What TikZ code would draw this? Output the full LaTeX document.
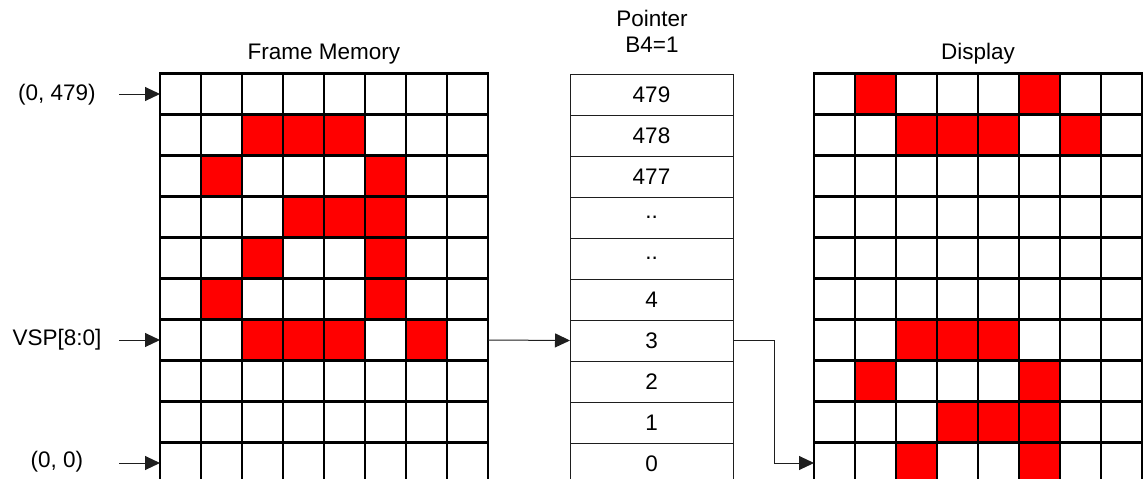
\documentclass[tikz,border=0pt]{standalone}
\usepackage{fontspec}
\setmainfont{Liberation Sans}
\usetikzlibrary{arrows.meta, positioning, backgrounds}
\definecolor{vermelho}{RGB}{255, 0, 0}
\definecolor{cinza}{RGB}{30, 30, 30}
\tikzset{
  celula/.style={
    draw, line width=2.3pt, minimum width=41pt, minimum height=41pt,
    inner sep=0pt, outer sep=0pt
  },
  registro/.style={
    draw=cinza, line width=1pt, minimum width=163pt, minimum height=41pt,
    inner sep=0pt, outer sep=0pt, font=\fontsize{22.5}{26}\selectfont
  },
  rotulo/.style={font=\fontsize{22.5}{26}\selectfont, align=center, inner sep=0pt},
  seta/.style={-{Triangle[length=15pt, width=14pt]}, line width=1pt, cinza},
}

\begin{document}
\begin{tikzpicture}[x=1pt, y=-1pt]
\useasboundingbox (0,0) rectangle (1143,479);
\clip (0,0) rectangle (1143,479);

% grades: memoria de quadro e display
\foreach \r in {0,...,9}
  \foreach \c in {0,...,7} {
    \node[celula] (fm-\r-\c) at (180.5+41*\c, 94+41*\r) {};
    \node[celula] (dp-\r-\c) at (834.5+41*\c, 94+41*\r) {};
  }

% tabela de ponteiros
\foreach \t [count=\i from 0] in {479,478,477,{..},{..},4,3,2,1,0}
  \node[registro] (ptr-\i) at (651.5, 94.5+41*\i) {\t};

\begin{scope}[on background layer]
\foreach \r/\c in {1/2,1/3,1/4,2/1,2/5,3/3,3/4,3/5,4/2,4/5,5/1,5/5,6/2,6/3,6/4,6/6}
  \fill[vermelho] (fm-\r-\c.north west) rectangle (fm-\r-\c.south east);
\foreach \r/\c in {0/1,0/5,1/2,1/3,1/4,1/6,6/2,6/3,6/4,7/1,7/5,8/3,8/4,8/5,9/2,9/5}
  \fill[vermelho] (dp-\r-\c.north west) rectangle (dp-\r-\c.south east);
\end{scope}

\node[rotulo] (tituloFM) at (324,54) {Frame Memory};
\node[rotulo] (tituloPtr) at (652,31) {Pointer\\B4=1};
\node[rotulo] (tituloDp) at (978,54) {Display};

\node[rotulo] (origemTopo) at (57,95) {(0, 479)};
\node[rotulo] (vsp) at (57,340) {VSP[8:0]};
\node[rotulo] (origemBase) at (57,462) {(0, 0)};

\coordinate (entrada) at (119,0);
\draw[seta] (entrada |- fm-0-0.west) -- (fm-0-0.west);
\draw[seta] (entrada |- fm-6-0.west) -- (fm-6-0.west);
\draw[seta] (entrada |- fm-9-0.west) -- (fm-9-0.west);

\draw[seta] (fm-6-7.east) -- (ptr-6.west);
\draw[seta] (ptr-6.east) -- ++(41,0) |- (dp-9-0.west);

\end{tikzpicture}
\end{document}
